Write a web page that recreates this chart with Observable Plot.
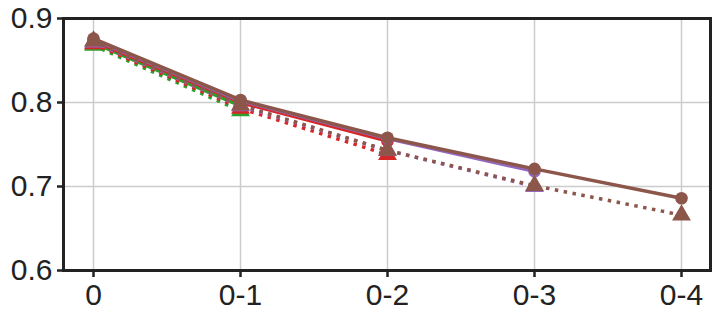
<!DOCTYPE html>
<html>
<head>
<meta charset="utf-8">
<script src="https://cdn.jsdelivr.net/npm/d3@7"></script>
<script src="https://cdn.jsdelivr.net/npm/@observablehq/plot@0.6"></script>
<style>
  html, body { margin: 0; padding: 0; background: #fff; }
  #chart svg { display: block; }
</style>
</head>
<body>
<div id="chart"></div>
<script>
const categories = ["0", "0-1", "0-2", "0-3", "0-4"];
const yTicks = [0.6, 0.7, 0.8, 0.9];

const seriesNames = ["green", "red", "purple", "brown"];
const seriesColors = ["#2ca02c", "#d62728", "#9467bd", "#8c564b"];

const greenSolid = [0.871, 0.796];
const greenDotted = [0.868, 0.790];
const redSolid = [0.873, 0.800, 0.754];
const redDotted = [0.870, 0.793, 0.738];
const purpleSolid = [0.875, 0.802, 0.757, 0.718];
const purpleDotted = [0.872, 0.796, 0.743, 0.700];
const brownSolid = [0.876, 0.803, 0.758, 0.721, 0.686];
const brownDotted = [0.873, 0.797, 0.743, 0.701, 0.666];

const solidSeries = [greenSolid, redSolid, purpleSolid, brownSolid];
const dottedSeries = [greenDotted, redDotted, purpleDotted, brownDotted];

const marks = [
  Plot.gridX(categories, {stroke: "#cccccc", strokeOpacity: 1, strokeWidth: 1.5}),
  Plot.gridY([0.7, 0.8], {stroke: "#cccccc", strokeOpacity: 1, strokeWidth: 1.5}),
];

seriesNames.forEach((name, i) => {
  const color = seriesColors[i];
  const solid = solidSeries[i].map((v, j) => ({x: categories[j], y: v}));
  const dotted = dottedSeries[i].map((v, j) => ({x: categories[j], y: v}));
  marks.push(
    Plot.line(dotted, {x: "x", y: "y", stroke: color, strokeWidth: 3.5, strokeDasharray: "3.5,5.5", strokeLinecap: "butt"}),
    Plot.dot(dotted, {x: "x", y: "y", symbol: "triangle", r: 7, fill: color, stroke: "none"}),
    Plot.line(solid, {x: "x", y: "y", stroke: color, strokeWidth: 3.5}),
    Plot.dot(solid, {x: "x", y: "y", symbol: "circle", r: 6.3, fill: color, stroke: "none"})
  );
});

marks.push(
  Plot.frame({stroke: "#222222", strokeWidth: 3}),
  Plot.axisY(yTicks, {tickFormat: d3.format(".1f"), tickSize: 6, tickPadding: 5, stroke: "#222222", strokeWidth: 2.5, fill: "#222222", fontSize: 30, label: null}),
  Plot.axisX(categories, {tickSize: 7, tickPadding: 6, stroke: "#222222", strokeWidth: 2.5, fill: "#222222", fontSize: 30, label: null})
);

const chart = Plot.plot({
  width: 719,
  height: 321,
  marginLeft: 63,
  marginRight: 9,
  marginTop: 18,
  marginBottom: 51,
  style: {fontFamily: "'Liberation Sans', Arial, sans-serif", fontSize: "30px", color: "#222", background: "#fff"},
  x: {type: "point", domain: categories, padding: 0.2, label: null},
  y: {domain: [0.6, 0.9], label: null},
  marks
});
document.getElementById("chart").appendChild(chart);
</script>
</body>
</html>
